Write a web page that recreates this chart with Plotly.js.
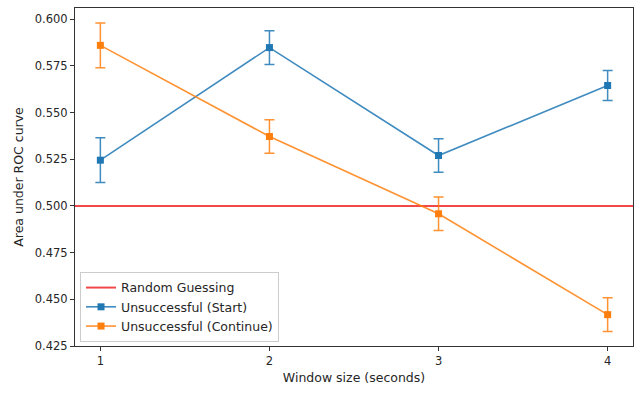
<!DOCTYPE html>
<html>
<head>
<meta charset="utf-8">
<script src="https://cdn.plot.ly/plotly-3.0.1.min.js"></script>
<style>html,body{margin:0;padding:0;background:#fff}</style>
</head>
<body>
<div id="chart" style="width:643px;height:395px"></div>
<script>
'use strict';

const windowSizes = [1, 2, 3, 4];
const startAuc = [0.5245, 0.5848, 0.5270, 0.5645];
const startErr = [0.012, 0.009, 0.009, 0.008];
const contAuc = [0.5860, 0.5372, 0.4958, 0.4418];
const contErr = [0.012, 0.009, 0.009, 0.009];
const chanceLevel = 0.5;
const xRange = [0.85, 4.15];

function errTrace(name, y, err, color) {
    return {
        x: windowSizes, y, name, type: 'scatter', mode: 'lines+markers',
        line: { color: color.replace('1)', '0.85)'), width: 1.6 },
        marker: { symbol: 'square', size: 7, color: color },
        error_y: { type: 'data', array: err, visible: true, color: color.replace('1)', '0.85)'), thickness: 1.5, width: 5 },
    };
}

const traces = [
    {
        x: xRange, y: [chanceLevel, chanceLevel], name: 'Random Guessing', type: 'scatter', mode: 'lines',
        line: { color: 'rgba(240,40,40,0.85)', width: 2 },
    },
    errTrace('Unsuccessful (Start)', startAuc, startErr, 'rgba(31,119,180,1)'),
    errTrace('Unsuccessful (Continue)', contAuc, contErr, 'rgba(255,127,14,1)'),
];

const axisBase = {
    showgrid: false, zeroline: false, showline: true, mirror: true,
    linecolor: '#333', linewidth: 1, ticks: 'outside', ticklen: 4, tickcolor: '#333',
    tickfont: { size: 11.5, color: '#262626' },
};

const layout = {
    width: 643, height: 395,
    margin: { l: 75, r: 10, t: 8, b: 49 },
    paper_bgcolor: '#fff', plot_bgcolor: '#fff',
    font: { family: 'DejaVu Sans', size: 12.5, color: '#262626' },
    showlegend: true,
    legend: {
        x: 0.009, y: 0.012, xanchor: 'left', yanchor: 'bottom',
        bgcolor: 'rgba(255,255,255,0.8)', bordercolor: '#ccc', borderwidth: 1,
        font: { size: 12.5 }, tracegroupgap: 0, itemwidth: 30,
    },
    xaxis: Object.assign({}, axisBase, {
        range: xRange, tickvals: windowSizes, ticktext: windowSizes.map(String),
        title: { text: 'Window size (seconds)', font: { size: 12.5 }, standoff: 6 },
    }),
    yaxis: Object.assign({}, axisBase, {
        range: [0.425, 0.606], tickvals: [0.425, 0.45, 0.475, 0.5, 0.525, 0.55, 0.575, 0.6],
        tickformat: '.3f',
        title: { text: 'Area under ROC curve', font: { size: 12.5 }, standoff: 8 },
    }),
};

Plotly.newPlot('chart', traces, layout, { displayModeBar: false, staticPlot: true });
</script>
</body>
</html>
